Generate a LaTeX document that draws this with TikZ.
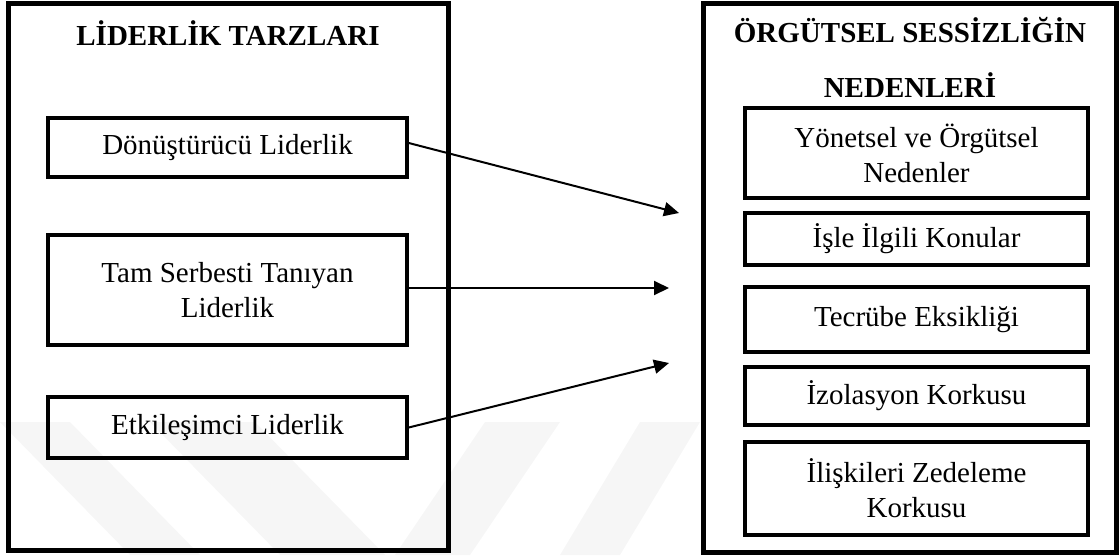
\documentclass[tikz,border=0pt]{standalone}
\usepackage{fontspec}
\setmainfont{Liberation Serif}
\usetikzlibrary{arrows.meta}
\tikzset{
  frame/.style={line width=5pt},
  itembox/.style={draw,line width=3.5pt,minimum width=359pt,align=center,inner sep=0pt,font=\fontsize{29}{35}\selectfont},
  causebox/.style={itembox,minimum width=343pt},
  heading/.style={align=center,font=\fontsize{29}{55}\selectfont\bfseries},
  wmark/.style={fill=gray!7,draw=none}
}

\begin{document}
\begin{tikzpicture}[line join=miter,>={Triangle[length=15pt,width=14pt]},x=1pt,y=-1pt]
			\useasboundingbox (0,0) rectangle (1120,555);
			% watermark
			\fill [wmark] (0,422)-- (70,422)-- (200,555)-- (130,555)-- cycle;
			\fill [wmark] (150,422)-- (255,422)-- (385,555)-- (280,555)-- cycle;
			\fill [wmark] (395,555)-- (470,555)-- (560,422)-- (485,422)-- cycle;
			\fill [wmark] (560,555)-- (620,555)-- (700,422)-- (640,422)-- cycle;
			% outer frames
			\draw [frame] (8,3) rectangle (448,550);
			\draw [frame] (703,3) rectangle (1116,552);
			\node [heading] (lefttitle) at (228,33) {LİDERLİK TARZLARI};
			\node [heading,anchor=north] (righttitle) at (910,14) {ÖRGÜTSEL SESSİZLİĞİN\\NEDENLERİ};
			% leadership styles
			\node [itembox,minimum height=59pt] (donus) at (227.5,147.5) {Dönüştürücü Liderlik};
			\node [itembox,minimum height=110pt] (serbest) at (227.5,290) {Tam Serbesti Tanıyan\\Liderlik};
			\node [itembox,minimum height=61pt] (etkil) at (227.5,427.5) {Etkileşimci Liderlik};
			% causes
			\node [causebox,minimum height=90pt] (yonetsel) at (916.5,153) {Yönetsel ve Örgütsel\\Nedenler};
			\node [causebox,minimum height=52pt] (isle) at (916.5,239) {İşle İlgili Konular};
			\node [causebox,minimum height=65pt] (tecrube) at (916.5,319.5) {Tecrübe Eksikliği};
			\node [causebox,minimum height=58pt] (izolasyon) at (916.5,396) {İzolasyon Korkusu};
			\node [causebox,minimum height=93pt] (iliski) at (916.5,488.5) {İlişkileri Zedeleme\\Korkusu};
			% arrows
			\coordinate (t1) at (679,213);
			\coordinate (t2) at (669,288);
			\coordinate (t3) at (669,363);
			\draw [->,line width=2pt] (donus.east |- 0,143)-- (t1);
			\draw [->,line width=2pt] (serbest.east |- 0,288)-- (t2);
			\draw [->,line width=2pt] (etkil.east)-- (t3);
\end{tikzpicture}
\end{document}
